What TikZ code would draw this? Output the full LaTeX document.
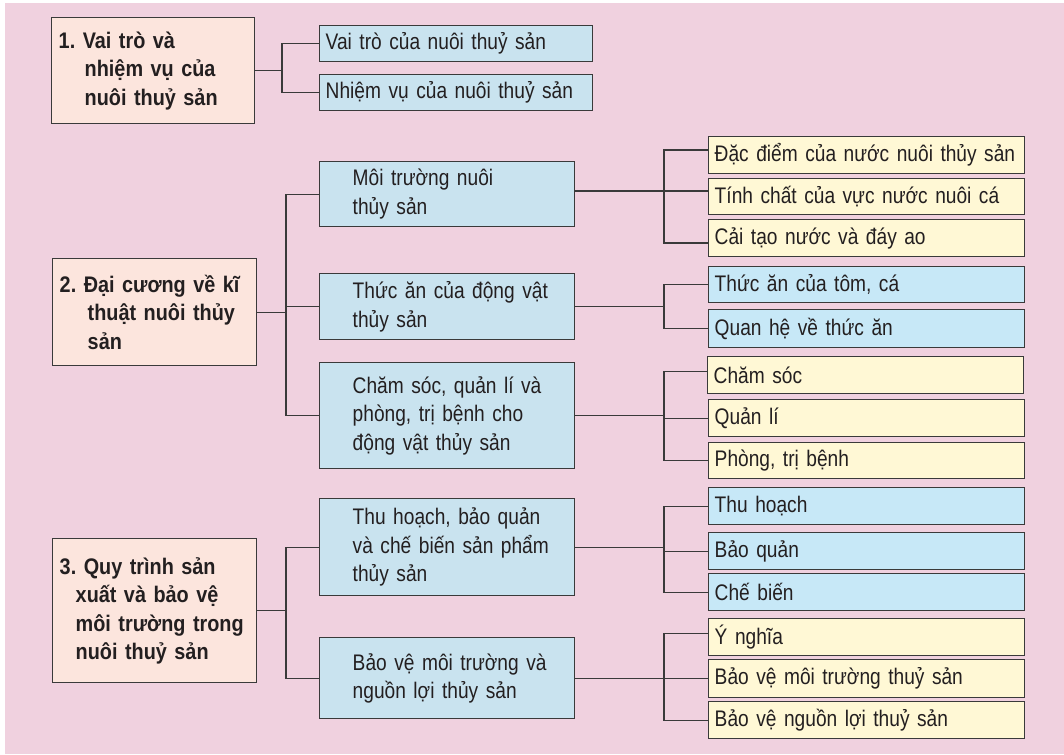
\documentclass[tikz,border=0pt]{standalone}
\usepackage{fontspec}
\setmainfont{Liberation Sans}[FakeStretch=0.85]
\newfontfamily\headfont{Liberation Sans}[FakeStretch=0.88]
\frenchspacing
\definecolor{pinkbg}{HTML}{F0D1DF}
\definecolor{peach}{HTML}{FCE5DD}
\definecolor{midblue}{HTML}{C9E3EF}
\definecolor{leafblue}{HTML}{C7E8F7}
\definecolor{leafyel}{HTML}{FFF8D5}
\definecolor{linec}{HTML}{3A3A3A}
\definecolor{textc}{HTML}{231F20}
\begin{document}
\begin{tikzpicture}[x=0.75pt,y=-0.75pt,
  box/.style={draw=linec, line width=1.1pt, rectangle, anchor=north west,
    inner xsep=0pt, inner ysep=0pt, align=left, text=textc,
    font=\fontsize{16.9}{21.4}\selectfont},
  headbox/.style={box, fill=peach, minimum width=153pt, text width=142.5pt,
    font=\fontsize{16.9}{21.4}\selectfont\headfont\bfseries},
  midbox/.style={box, fill=midblue, minimum width=191.25pt, text width=141.75pt},
  topbox/.style={box, fill=midblue, minimum width=204.75pt, text width=195.75pt, minimum height=27pt},
  leafbox/.style={box, minimum width=237pt, text width=228pt},
  yelbox/.style={leafbox, fill=leafyel},
  blubox/.style={leafbox, fill=leafblue},
  conn/.style={draw=linec, line width=1.1pt}]
\useasboundingbox (0,0) rectangle (1064,754);
\fill[white] (0,0) rectangle (1064,754);
\fill[pinkbg] (5,3) rectangle (1064,754);

% left heading boxes
\node[headbox, minimum width=152.25pt, text width=141.75pt, minimum height=79.5pt] (b1) at (51,17)
  {\mbox{1. Vai trò và}\\\hspace*{19.5pt}\mbox{nhiệm vụ của}\\\hspace*{19.5pt}\mbox{nuôi thuỷ sản}};
\node[headbox, minimum height=80.25pt] (b2) at (52,258)
  {\mbox{2. Đại cương về kĩ}\\\hspace*{21pt}\mbox{thuật nuôi thủy}\\\hspace*{21pt}\mbox{sản}};
\node[headbox, minimum height=108pt] (b3) at (52,538)
  {\mbox{3. Quy trình sản}\\\hspace*{12pt}\mbox{xuất và bảo vệ}\\\hspace*{12pt}\mbox{môi trường trong}\\\hspace*{12pt}\mbox{nuôi thuỷ sản}};

% section 1 leaves
\node[topbox] (v1) at (319,25) {Vai trò của nuôi thuỷ sản};
\node[topbox] (v2) at (319,74) {Nhiệm vụ của nuôi thuỷ sản};

% middle boxes
\node[midbox, minimum height=48.75pt] (m1) at (319,161) {\mbox{Môi trường nuôi}\\\mbox{thủy sản}};
\node[midbox, minimum height=49.5pt] (m2) at (319,273) {\mbox{Thức ăn của động vật}\\\mbox{thủy sản}};
\node[midbox, minimum height=79.5pt] (m3) at (319,362) {\mbox{Chăm sóc, quản lí và}\\\mbox{phòng, trị bệnh cho}\\\mbox{động vật thủy sản}};
\node[midbox, minimum height=72.75pt] (m4) at (319,498) {\mbox{Thu hoạch, bảo quản}\\\mbox{và chế biến sản phẩm}\\\mbox{thủy sản}};
\node[midbox, minimum height=60.75pt] (m5) at (319,637) {\mbox{Bảo vệ môi trường và}\\\mbox{nguồn lợi thủy sản}};

% right leaves
\node[yelbox, minimum height=27.75pt] (r1) at (708,136) {Đặc điểm của nước nuôi thủy sản};
\node[yelbox, minimum height=27pt] (r2) at (708,178) {Tính chất của vực nước nuôi cá};
\node[yelbox, minimum height=27.75pt] (r3) at (708,219) {Cải tạo nước và đáy ao};
\node[blubox, minimum height=27pt] (r4) at (708,266) {Thức ăn của tôm, cá};
\node[blubox, minimum height=28.5pt] (r5) at (708,309) {Quan hệ về thức ăn};
\node[yelbox, minimum height=27.75pt] (r6) at (707,356) {Chăm sóc};
\node[yelbox, minimum height=27.75pt] (r7) at (708,399) {Quản lí};
\node[yelbox, minimum height=27pt] (r8) at (708,442) {Phòng, trị bệnh};
\node[blubox, minimum height=27.75pt] (r9) at (708,487) {Thu hoạch};
\node[blubox, minimum height=27.75pt] (r10) at (708,532) {Bảo quản};
\node[blubox, minimum height=27.75pt] (r11) at (708,573) {Chế biến};
\node[yelbox, minimum height=27.75pt] (r12) at (708,618) {Ý nghĩa};
\node[yelbox, minimum height=28.5pt] (r13) at (708,659) {Bảo vệ môi trường thuỷ sản};
\node[yelbox, minimum height=27.75pt] (r14) at (708,701) {Bảo vệ nguồn lợi thuỷ sản};

% connector bars
\coordinate (xa) at (282,0);
\coordinate (xb) at (286,0);
\coordinate (xc) at (664,0);

% section 1
\draw[conn] (b1.east) -- (b1.east -| xa);
\draw[conn] (v1.west) -| (xa |- v2.west) -- (v2.west);

% section 2
\draw[conn] (b2.east) -- (b2.east -| xb);
\draw[conn] (m1.west) -| (xb |- m3.west) -- (m3.west);
\draw[conn] (m2.west) -- (m2.west -| xb);

\draw[conn] ([yshift=2.6pt]m1.east) -- ([yshift=2.6pt]m1.east -| r2.west);
\draw[conn] ([yshift=4.1pt]r1.west) -| ([yshift=-3.4pt]xc |- r3.west) -- ([yshift=-3.4pt]r3.west);

\draw[conn] (m2.east) -- (m2.east -| xc);
\draw[conn] (r4.west) -| (xc |- r5.west) -- (r5.west);

\draw[conn] (m3.east) -- (m3.east -| xc);
\draw[conn] ([yshift=3pt]r6.west) -| (xc |- r8.west) -- (r8.west);
\draw[conn] (r7.west) -- (r7.west -| xc);

% section 3
\draw[conn] (b3.east) -- (b3.east -| xb);
\draw[conn] (m4.west) -| (xb |- m5.west) -- (m5.west);

\draw[conn] (m4.east) -- (m4.east -| xc);
\draw[conn] (r9.west) -| (xc |- r11.west) -- (r11.west);
\draw[conn] (r10.west) -- (r10.west -| xc);

\draw[conn] (m5.east) -- (m5.east -| xc);
\draw[conn] ([yshift=3pt]r12.west) -| (xc |- r14.west) -- (r14.west);
\draw[conn] (r13.west) -- (r13.west -| xc);
\end{tikzpicture}
\end{document}
